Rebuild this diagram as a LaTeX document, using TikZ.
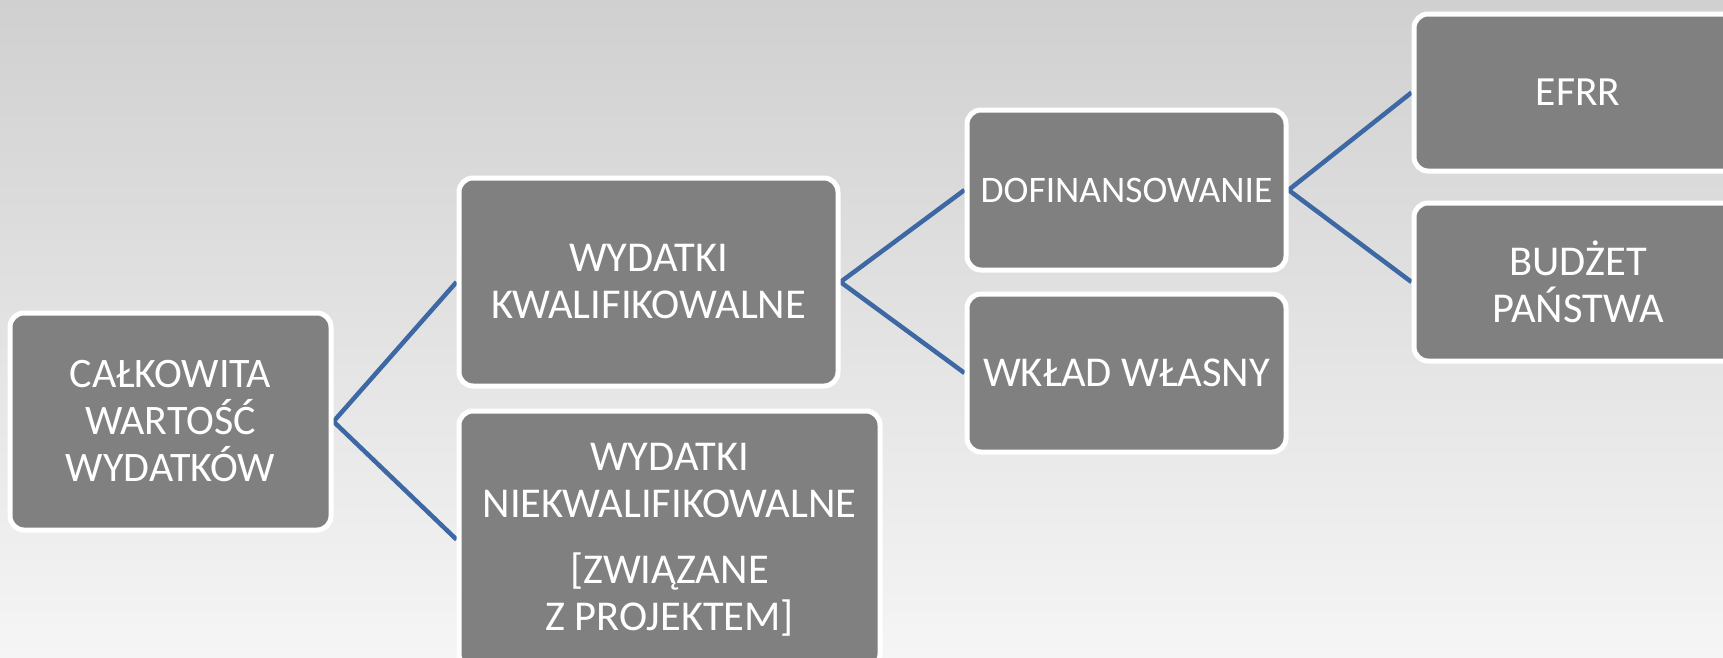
\documentclass[tikz,border=0pt]{standalone}
\usepackage{fontspec}
\setmainfont{Carlito}
\pgfdeclarelayer{bottom}
\pgfdeclarelayer{links}
\pgfsetlayers{bottom,links,main}
\definecolor{boxgray}{RGB}{128,128,128}
\definecolor{linkblue}{RGB}{61,104,163}
\definecolor{bgtop}{RGB}{208,208,208}
\definecolor{bgbot}{RGB}{245,245,245}
\tikzset{
  box/.style={draw=white, line width=5pt, fill=boxgray, rounded corners=14pt,
    text=white, align=center, inner sep=0pt, font=\fontsize{42.5}{47}\selectfont},
  link/.style={draw=linkblue, line width=4.5pt},
}
\begin{document}
\begin{tikzpicture}[x=1pt,y=-1pt]
\useasboundingbox (0,0) rectangle (1723,657);
\begin{pgfonlayer}{bottom}
\shade[top color=bgtop,bottom color=bgbot] (0,0) rectangle (1723,657);
\end{pgfonlayer}

\node[box, minimum width=321pt, minimum height=217pt,
  font=\fontsize{42}{47}\selectfont] (tot) at (170.5,421.5)
  {CAŁKOWITA\\WARTOŚĆ\\WYDATKÓW};
\node[box, minimum width=379pt, minimum height=208pt] (kw) at (648.5,282)
  {WYDATKI\\KWALIFIKOWALNE};
\node[box, minimum width=421pt, minimum height=257pt] (nkw) at (669.5,539.5)
  {WYDATKI\\NIEKWALIFIKOWALNE\\[19pt]{[}ZWIĄZANE\\Z PROJEKTEM]};
\node[box, minimum width=319pt, minimum height=160pt,
  font=\fontsize{37.5}{42}\selectfont] (dof) at (1126.5,190) {DOFINANSOWANIE};
\node[box, minimum width=319pt, minimum height=158pt] (wk) at (1126.5,373)
  {WKŁAD WŁASNY};
\node[box, minimum width=328pt, minimum height=157pt,
  font=\fontsize{41.5}{45}\selectfont] (efrr) at (1578,92.5) {EFRR};
\node[box, minimum width=328pt, minimum height=158pt] (bp) at (1578,282)
  {BUDŻET\\PAŃSTWA};

\begin{pgfonlayer}{links}
\draw[link] (tot.east) -- (kw.west);
\draw[link] (tot.east) -- (nkw.west);
\draw[link] (kw.east) -- (dof.west);
\draw[link] (kw.east) -- (wk.west);
\draw[link] (dof.east) -- (efrr.west);
\draw[link] (dof.east) -- (bp.west);
\end{pgfonlayer}
\end{tikzpicture}
\end{document}
